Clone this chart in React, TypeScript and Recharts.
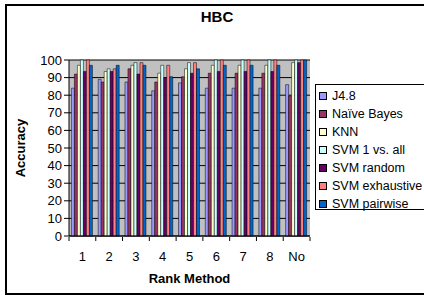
import { BarChart, Bar, XAxis, YAxis, CartesianGrid } from "recharts";

const categories = ["1", "2", "3", "4", "5", "6", "7", "8", "No"];
const j48 = [84, 89, 87.5, 82.5, 87, 84, 84, 84, 86];
const naiveBayes = [92, 87.5, 95, 87.5, 90.5, 92.5, 92.5, 92.5, 79.5];
const knn = [97, 93.5, 97, 92.5, 95, 97, 97, 97, 98.5];
const svmOneVsAll = [100, 95, 98.5, 97, 98.5, 100, 100, 100, 100];
const svmRandom = [93.5, 93.5, 92, 90, 92.5, 93.5, 93.5, 93.5, 98.5];
const svmExhaustive = [100, 95, 98.5, 97, 98.5, 100, 100, 100, 100];
const svmPairwise = [97, 97, 97, 90.5, 95, 97, 97, 97, 100];
const yTicks = [0, 10, 20, 30, 40, 50, 60, 70, 80, 90, 100];

const SERIES = [
  { key: "j48", name: "J4.8", color: "#9999FF", values: j48 },
  { key: "nb", name: "Naïve Bayes", color: "#993366", values: naiveBayes },
  { key: "knn", name: "KNN", color: "#FFFFCC", values: knn },
  { key: "svm1", name: "SVM 1 vs. all", color: "#CCFFFF", values: svmOneVsAll },
  { key: "svmr", name: "SVM random", color: "#660066", values: svmRandom },
  { key: "svme", name: "SVM exhaustive", color: "#FF8080", values: svmExhaustive },
  { key: "svmp", name: "SVM pairwise", color: "#0066CC", values: svmPairwise },
];

const data = categories.map((c, i) => {
  const row: Record<string, string | number> = { rank: c };
  SERIES.forEach((s) => (row[s.key] = s.values[i]));
  return row;
});

const FONT = '"Liberation Sans", Arial, sans-serif';
const PLOT_LEFT = 69;
const PLOT_RIGHT = 310;
const BAND = (PLOT_RIGHT - PLOT_LEFT) / categories.length;

const RankTick = (props: any) => {
  const { x, y, payload, index } = props;
  return (
    <g>
      <text x={x} y={y} dy={17} textAnchor="middle" fontSize={13} fontFamily={FONT} fill="#000">
        {payload.value}
      </text>
      <line x1={x + BAND / 2} x2={x + BAND / 2} y1={y - 7} y2={y - 3} stroke="#000" />
      {index === 0 && (
        <line x1={x - BAND / 2} x2={x - BAND / 2} y1={y - 7} y2={y - 3} stroke="#000" />
      )}
    </g>
  );
};

export default function App() {
  return (
    <div
      style={{
        position: "absolute",
        left: 0,
        top: 0,
        width: 424,
        height: 295,
        overflow: "hidden",
        background: "#fff",
        fontFamily: FONT,
      }}
    >
      <div
        style={{
          position: "absolute",
          left: 5,
          top: 4,
          width: 440,
          height: 287,
          border: "2px solid #000",
        }}
      />
      <div style={{ position: "absolute", left: 0, top: 0 }}>
        <BarChart
          width={424}
          height={295}
          data={data}
          margin={{ top: 60, right: 424 - PLOT_RIGHT, bottom: 0, left: 25 }}
          barCategoryGap="9%"
          barGap={0}
        >
          <CartesianGrid vertical={false} stroke="#000" fill="#C0C0C0" />
          <XAxis
            dataKey="rank"
            height={59}
            axisLine={{ stroke: "#000" }}
            tickLine={false}
            tick={<RankTick />}
            interval={0}
          />
          <YAxis
            width={44}
            domain={[0, 100]}
            ticks={yTicks}
            interval={0}
            axisLine={{ stroke: "#000" }}
            tickLine={{ stroke: "#000" }}
            tickSize={5}
            tick={{ fontSize: 13, fill: "#000", fontFamily: FONT }}
          />
          {SERIES.map((s) => (
            <Bar
              key={s.key}
              dataKey={s.key}
              name={s.name}
              fill={s.color}
              stroke="#000"
              strokeWidth={0.5}
              isAnimationActive={false}
            />
          ))}
        </BarChart>
      </div>
      <svg
        width={424}
        height={295}
        style={{ position: "absolute", left: 0, top: 0, pointerEvents: "none" }}
      >
        <text x={217} y={22} textAnchor="middle" fontSize={15} fontWeight="bold" fontFamily={FONT}>
          HBC
        </text>
        <text x={189.5} y={282.5} textAnchor="middle" fontSize={13} fontWeight="bold" fontFamily={FONT}>
          Rank Method
        </text>
        <text
          x={25}
          y={148}
          textAnchor="middle"
          fontSize={13}
          fontWeight="bold"
          fontFamily={FONT}
          transform="rotate(-90, 25, 148)"
        >
          Accuracy
        </text>
      </svg>
      <div
        style={{
          position: "absolute",
          left: 315,
          top: 84,
          width: 130,
          height: 124,
          border: "1px solid #000",
          background: "#fff",
        }}
      >
        {SERIES.map((s, i) => (
          <div
            key={s.key}
            style={{
              position: "absolute",
              left: 3,
              top: 4.5 + i * 18,
              height: 13,
              display: "flex",
              alignItems: "center",
              whiteSpace: "nowrap",
              fontSize: 12.5,
              lineHeight: "13px",
            }}
          >
            <span
              style={{
                display: "inline-block",
                width: 6,
                height: 6,
                border: "1px solid #000",
                background: s.color,
                marginRight: 5,
              }}
            />
            {s.name}
          </div>
        ))}
      </div>
    </div>
  );
}
